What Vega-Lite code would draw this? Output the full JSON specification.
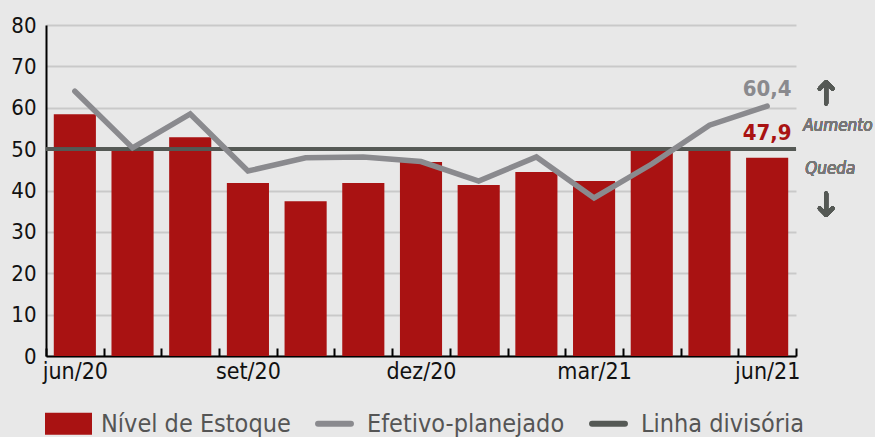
{
  "$schema": "https://vega.github.io/schema/vega-lite/v6.json",
  "width": 750,
  "height": 331,
  "padding": {"left": 10, "top": 14, "right": 5, "bottom": 0},
  "background": "#e8e8e8",
  "config": {
    "view": {"stroke": null},
    "font": "DejaVu Sans Condensed, DejaVu Sans, sans-serif"
  },
  "data": {
    "values": [
      {"mes": "jun/20", "estoque": 58.4, "efetivo": 64.0},
      {"mes": "jul/20", "estoque": 50.3, "efetivo": 50.3},
      {"mes": "ago/20", "estoque": 52.9, "efetivo": 58.5},
      {"mes": "set/20", "estoque": 41.8, "efetivo": 44.7},
      {"mes": "out/20", "estoque": 37.4, "efetivo": 47.9},
      {"mes": "nov/20", "estoque": 41.8, "efetivo": 48.1},
      {"mes": "dez/20", "estoque": 46.9, "efetivo": 47.0},
      {"mes": "jan/21", "estoque": 41.3, "efetivo": 42.3},
      {"mes": "fev/21", "estoque": 44.5, "efetivo": 48.1},
      {"mes": "mar/21", "estoque": 42.3, "efetivo": 38.2},
      {"mes": "abr/21", "estoque": 50.4, "efetivo": 46.4},
      {"mes": "mai/21", "estoque": 50.2, "efetivo": 55.8},
      {"mes": "jun/21", "estoque": 47.9, "efetivo": 60.4}
    ]
  },
  "encoding": {
    "x": {
      "field": "mes",
      "type": "ordinal",
      "sort": null,
      "scale": {"paddingInner": 0, "paddingOuter": 0},
      "axis": {
        "title": null,
        "labelAngle": 0,
        "labelFontSize": 23,
        "labelColor": "#111",
        "labelExpr": "indexof(['jun/20','set/20','dez/20','mar/21','jun/21'], datum.value) >= 0 ? datum.value : ''",
        "tickBand": "extent",
        "tickSize": -8,
        "tickWidth": 2,
        "tickColor": "#000",
        "domainColor": "#000",
        "domainWidth": 2,
        "labelPadding": 12,
        "grid": false
      }
    }
  },
  "layer": [
    {
      "mark": {"type": "bar", "width": {"band": 0.73}},
      "encoding": {
        "y": {
          "field": "estoque",
          "type": "quantitative",
          "scale": {"domain": [0, 80]},
          "axis": {
            "title": null,
            "values": [0, 10, 20, 30, 40, 50, 60, 70, 80],
            "labelFontSize": 22,
            "labelColor": "#111",
            "labelPadding": 10,
            "ticks": false,
            "domainColor": "#000",
            "domainWidth": 2,
            "gridColor": "#c9c9c9",
            "gridWidth": 2
          }
        },
        "color": {
          "datum": "Nível de Estoque",
          "type": "nominal",
          "scale": {
            "domain": ["Nível de Estoque", "Efetivo-planejado", "Linha divisória"],
            "range": ["#a91212", "#8a8a8e", "#555955"]
          },
          "legend": {
            "title": null,
            "orient": "bottom",
            "direction": "horizontal",
            "offset": 28,
            "labelFontSize": 25,
            "labelColor": "#555",
            "labelLimit": 400,
            "labelOffset": 20,
            "symbolOffset": 10,
            "columnPadding": 15,
            "symbolSize": 2209,
            "encode": {
              "symbols": {
                "update": {
                  "shape": {"signal": "datum.value === 'Nível de Estoque' ? 'M-1,-0.47H1V0.47H-1Z' : 'M-0.7,0H0.7'"},
                  "fill": {"signal": "datum.value === 'Nível de Estoque' ? '#a91212' : 'transparent'"},
                  "stroke": {"signal": "scale('color', datum.value)"},
                  "strokeWidth": {"signal": "datum.value === 'Nível de Estoque' ? 0 : 6"},
                  "strokeCap": {"value": "round"},
                  "opacity": {"value": 1}
                }
              }
            }
          }
        }
      }
    },
    {
      "mark": {"type": "rule", "strokeWidth": 3},
      "encoding": {
        "x": {"value": 0},
        "x2": {"value": 750},
        "y": {"datum": 50},
        "color": {"datum": "Linha divisória", "type": "nominal"}
      }
    },
    {
      "mark": {"type": "line", "strokeWidth": 5.5, "strokeCap": "round"},
      "encoding": {
        "y": {"field": "efetivo", "type": "quantitative"},
        "color": {"datum": "Efetivo-planejado", "type": "nominal"}
      }
    },
    {
      "transform": [{"filter": "datum.mes === 'jun/21'"}],
      "mark": {"type": "text", "fontSize": 22, "fontWeight": "bold", "color": "#8a8a8e", "dy": -17},
      "encoding": {
        "y": {"field": "efetivo", "type": "quantitative"},
        "text": {"value": "60,4"}
      }
    },
    {
      "transform": [{"filter": "datum.mes === 'jun/21'"}],
      "mark": {"type": "text", "fontSize": 22, "fontWeight": "bold", "color": "#a91212", "dy": -25},
      "encoding": {
        "y": {"field": "estoque", "type": "quantitative"},
        "text": {"value": "47,9"}
      }
    },
    {
      "mark": {"type": "text", "fontSize": 17, "fontStyle": "italic", "fontWeight": "normal", "color": "#777", "align": "left", "dx": 36},
      "encoding": {
        "x": {"datum": "jun/21"},
        "y": {"datum": 55.6},
        "text": {"value": "Aumento"}
      }
    },
    {
      "mark": {"type": "text", "fontSize": 17, "fontStyle": "italic", "fontWeight": "normal", "color": "#777", "align": "left", "dx": 38},
      "encoding": {
        "x": {"datum": "jun/21"},
        "y": {"datum": 45.2},
        "text": {"value": "Queda"}
      }
    },
    {
      "mark": {"type": "point", "shape": "M0,-1L0,1M-0.6,-0.4L0,-1L0.6,-0.4", "size": 460, "strokeWidth": 4, "strokeCap": "round", "strokeJoin": "round", "color": "#555955", "filled": false, "opacity": 1, "xOffset": 59},
      "encoding": {
        "x": {"datum": "jun/21"},
        "y": {"datum": 63.6}
      }
    },
    {
      "mark": {"type": "point", "shape": "M0,1L0,-1M-0.6,0.4L0,1L0.6,0.4", "size": 460, "strokeWidth": 4, "strokeCap": "round", "strokeJoin": "round", "color": "#555955", "filled": false, "opacity": 1, "xOffset": 59},
      "encoding": {
        "x": {"datum": "jun/21"},
        "y": {"datum": 36.7}
      }
    }
  ]
}
